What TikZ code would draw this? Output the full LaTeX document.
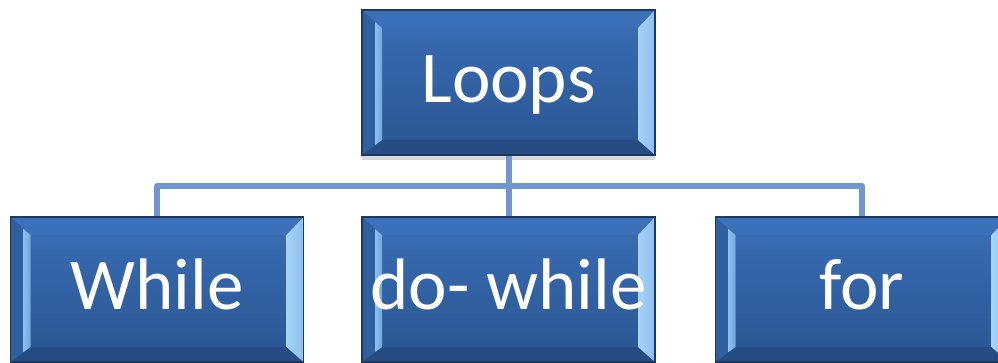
\documentclass[tikz,border=0pt]{standalone}
\usepackage{fontspec}
\setmainfont{Carlito}
\usetikzlibrary{shadows}

\definecolor{boxtop}{RGB}{58,110,182}
\definecolor{boxbot}{RGB}{42,85,146}
\definecolor{boxedge}{RGB}{30,55,95}
\definecolor{bevtop}{RGB}{60,112,184}
\definecolor{bevleft}{RGB}{48,95,160}
\definecolor{bevlight}{RGB}{140,190,240}
\definecolor{bevright}{RGB}{165,212,246}
\definecolor{bevdark}{RGB}{38,76,132}
\definecolor{conncol}{RGB}{112,150,208}

% four bevel facets drawn inside a box, under its text
\newcommand{\bevelfacets}{%
  \path (path picture bounding box.north west) coordinate (bNW)
        (path picture bounding box.north east) coordinate (bNE)
        (path picture bounding box.south east) coordinate (bSE)
        (path picture bounding box.south west) coordinate (bSW);
  \coordinate (iNW) at ([xshift=20pt,yshift=-18pt]bNW);
  \coordinate (iNE) at ([xshift=-17pt,yshift=-18pt]bNE);
  \coordinate (iSE) at ([xshift=-17pt,yshift=15pt]bSE);
  \coordinate (iSW) at ([xshift=20pt,yshift=15pt]bSW);
  \coordinate (mNW) at ([xshift=13pt,yshift=-12pt]bNW);
  \coordinate (mSW) at ([xshift=13pt,yshift=10pt]bSW);
  \fill[bevtop] (bNW) -- (bNE) -- (iNE) -- (iNW) -- cycle;
  \fill[bevdark] (bSW) -- (bSE) -- (iSE) -- (iSW) -- cycle;
  \fill[bevleft] (bNW) -- (iNW) -- (iSW) -- (bSW) -- cycle;
  \shade[left color=bevlight, right color=bevlight!70!boxtop]
    (mNW) -- (iNW) -- (iSW) -- (mSW) -- cycle;
  \shade[left color=bevright, right color=bevlight]
    (bNE) -- (iNE) -- (iSE) -- (bSE) -- cycle;
}

\tikzset{
  bevelbox/.style={draw=boxedge, line width=1.2pt,
    top color=boxtop, bottom color=boxbot,
    minimum width=293pt, minimum height=145pt, inner sep=0pt,
    text=white, font=\fontsize{73}{80}\selectfont,
    text height=47pt, text depth=7pt,
    path picture={\bevelfacets}},
  shadowed/.style={drop shadow={shadow xshift=0pt, shadow yshift=-5pt,
    opacity=0.25, fill=black!60}},
  conn/.style={draw=conncol, line width=6pt, line join=round}
}

\begin{document}
\begin{tikzpicture}[x=1pt, y=-1pt]
  \useasboundingbox (0,0) rectangle (998,363);
  \clip (0,0) rectangle (998,363);

  \node[bevelbox, shadowed] (loops) at (508.5,82.5) {Loops};
  \node[bevelbox] (while)   at (157,289.5)   {While};
  \node[bevelbox] (dowhile) at (508.5,289.5) {do- while};
  \node[bevelbox] (for)     at (862,289.5)   {for};

  \coordinate (bus) at (508.5,186);

  \draw[conn] (loops.south) -- (dowhile.north);
  \draw[conn] (while.north) |- (bus) -| (for.north);
\end{tikzpicture}
\end{document}
